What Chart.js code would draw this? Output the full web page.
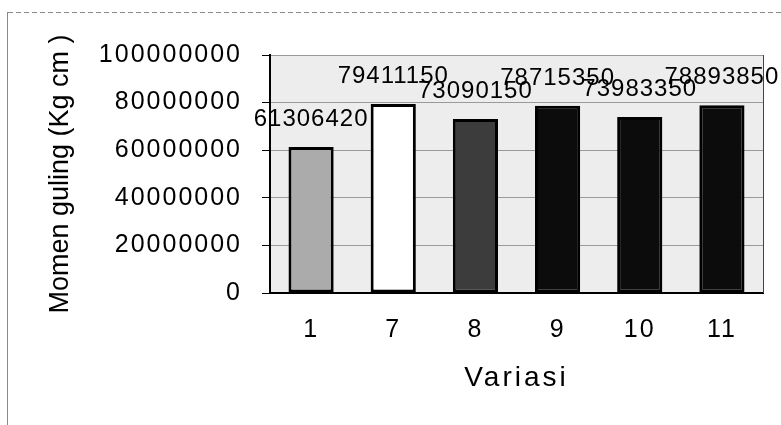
<!DOCTYPE html>
<html>
<head>
<meta charset="utf-8">
<script src="https://cdn.jsdelivr.net/npm/chart.js@4/dist/chart.umd.min.js"></script>
<style>
  html, body { margin: 0; padding: 0; background: #ffffff; }
  #wrap { position: relative; width: 781px; height: 425px; }
  canvas { display: block; }
</style>
</head>
<body>
<div id="wrap"><canvas id="c" width="781" height="425"></canvas></div>
<script>
// Overturning moment per variation
const categories = ['1', '7', '8', '9', '10', '11'];
const momentValues = [61306420, 79411150, 73090150, 78715350, 73983350, 78893850];
const barColors = ['#ababab', '#ffffff', '#3c3c3c', '#0c0c0c', '#0c0c0c', '#0c0c0c'];
const yTicks = [0, 20000000, 40000000, 60000000, 80000000, 100000000];

const FONT = "'Liberation Sans', Arial, sans-serif";

// Light plot-area fill and the outer chart frame
const frame = {
  id: 'frame',
  beforeDraw(chart) {
    const { ctx, chartArea: a } = chart;
    ctx.save();
    ctx.fillStyle = '#ededed';
    ctx.fillRect(a.left, a.top, a.right - a.left, a.bottom - a.top);
    ctx.strokeStyle = '#8a8a8a';
    ctx.lineWidth = 1;
    ctx.setLineDash([5, 3]);
    ctx.beginPath();
    ctx.moveTo(8, 12.5);
    ctx.lineTo(781, 12.5);
    ctx.stroke();
    ctx.setLineDash([]);
    ctx.beginPath();
    ctx.moveTo(7.5, 12);
    ctx.lineTo(7.5, 425);
    ctx.stroke();
    ctx.restore();
  },
  afterDraw(chart) {
    const { ctx, chartArea: a } = chart;
    ctx.save();
    ctx.strokeStyle = '#444';
    ctx.lineWidth = 1;
    ctx.beginPath();
    ctx.moveTo(a.right + 0.5, a.top);
    ctx.lineTo(a.right + 0.5, a.bottom);
    ctx.stroke();
    ctx.restore();
  }
};

// Slightly tracked axis text
const spacing = { x: { labels: '2px', title: '3px' }, y: { labels: '2px', title: '0px' } };
const tracking = {
  id: 'tracking',
  afterUpdate(chart) {
    for (const id of ['x', 'y']) {
      const s = chart.scales[id];
      if (!s || s._tracked) continue;
      s._tracked = true;
      const wrap = (name, sp) => {
        const orig = s[name].bind(s);
        s[name] = function (...args) {
          const c = this.ctx;
          const prev = c.letterSpacing;
          c.letterSpacing = sp;
          orig(...args);
          c.letterSpacing = prev;
        };
      };
      wrap('drawLabels', spacing[id].labels);
      wrap('drawTitle', spacing[id].title);
    }
  }
};

// Value printed above each bar
const valueLabels = {
  id: 'valueLabels',
  afterDatasetsDraw(chart) {
    const { ctx } = chart;
    const meta = chart.getDatasetMeta(0);
    ctx.save();
    ctx.font = '24px ' + FONT;
    ctx.letterSpacing = '1px';
    ctx.fillStyle = '#000';
    ctx.textAlign = 'center';
    ctx.textBaseline = 'alphabetic';
    meta.data.forEach((bar, i) => {
      ctx.fillText(String(momentValues[i]), bar.x, bar.y - 21);
    });
    ctx.restore();
  }
};

new Chart(document.getElementById('c'), {
  type: 'bar',
  data: {
    labels: categories,
    datasets: [{
      data: momentValues,
      backgroundColor: barColors,
      borderColor: '#000',
      borderWidth: 3,
      borderSkipped: false,
      barPercentage: 0.55,
      categoryPercentage: 1.0
    }]
  },
  options: {
    responsive: false,
    animation: false,
    devicePixelRatio: 1,
    layout: { padding: { left: 0, top: 55, right: 18, bottom: 0 } },
    plugins: { legend: { display: false }, tooltip: { enabled: false } },
    scales: {
      x: {
        offset: true,
        grid: { display: false, drawTicks: false },
        border: { display: true, color: '#000', width: 2 },
        ticks: { color: '#000', font: { family: FONT, size: 25 }, padding: 22, maxRotation: 0 },
        title: { display: true, text: 'Variasi', color: '#000', font: { family: FONT, size: 28 }, padding: { top: 0, bottom: 30 } },
        afterFit(scale) { scale.height = 132; }
      },
      y: {
        min: 0,
        max: 100000000,
        afterBuildTicks(scale) { scale.ticks = yTicks.map(v => ({ value: v })); },
        grid: {
          color: '#9a9a9a',
          lineWidth: 1,
          borderDash: [4, 3],
          drawTicks: true,
          tickLength: 8,
          tickColor: '#000',
          tickBorderDash: [],
          tickWidth: 1
        },
        border: { display: true, color: '#000', width: 2 },
        ticks: {
          color: '#000',
          font: { family: FONT, size: 25 },
          padding: 20,
          callback: (v) => String(v)
        },
        title: { display: true, text: 'Momen guling (Kg cm )', color: '#000', font: { family: FONT, size: 27 }, padding: { top: 44, bottom: 0 } },
        afterFit(scale) { scale.width = 270; }
      }
    }
  },
  plugins: [frame, tracking, valueLabels]
});
</script>
</body>
</html>
